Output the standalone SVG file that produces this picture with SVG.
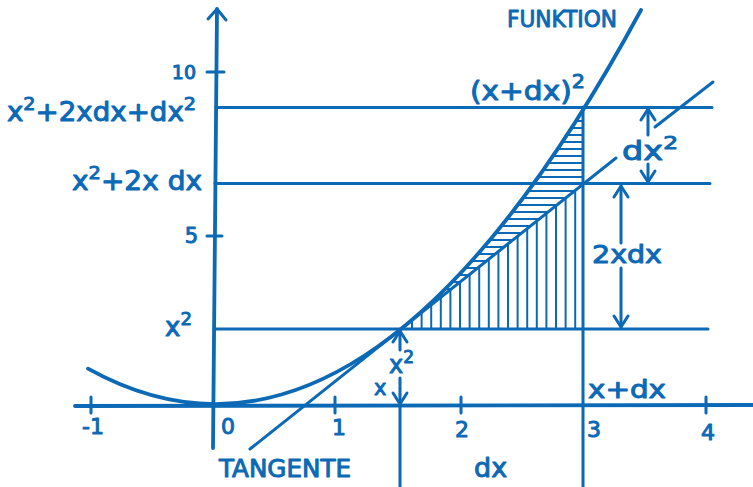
<svg xmlns="http://www.w3.org/2000/svg" width="753" height="487" viewBox="0 0 753 487">
<style>
.ln{fill:none;stroke:#0b69b5;stroke-width:3;stroke-linecap:round;stroke-linejoin:round}
.thick{stroke-width:3.8}
.hatch{fill:none;stroke:#0b69b5;stroke-width:2}
.t{fill:#0b69b5;stroke:#0b69b5;stroke-width:1;stroke-linejoin:round;font-family:"DejaVu Sans","Liberation Sans",sans-serif}
</style>
<defs>
<marker id="ah" markerUnits="userSpaceOnUse" markerWidth="30" markerHeight="30" viewBox="-15 -15 30 30" refX="0" refY="0" orient="auto" overflow="visible">
<path d="M-11,-7 L0,0 L-11,7" fill="none" stroke="#0b69b5" stroke-width="3" stroke-linecap="round" stroke-linejoin="round"/>
</marker>
<clipPath id="hclip"><path d="M400,329 Q491.5,254.9 583,107.4 L583,184.3 L400,329.7 Z"/></clipPath>
<clipPath id="vclip"><path d="M400,329.7 L583,184.3 L583,329 Z"/></clipPath>
</defs>

<g id="hatching">
<g clip-path="url(#hclip)" class="hatch">
<path d="M380,114H590M380,121H590M380,128H590M380,135H590M380,142H590M380,149H590M380,156H590M380,163H590M380,170H590M380,177H590M380,184H590M380,191H590M380,198H590M380,205H590M380,212H590M380,219H590M380,226H590M380,233H590M380,240H590M380,247H590M380,254H590M380,261H590M380,268H590M380,275H590M380,282H590M380,289H590M380,296H590M380,303H590M380,310H590"/>
</g>
<g clip-path="url(#vclip)" class="hatch">
<path d="M412,170V335M421.6,170V335M431.2,170V335M440.8,170V335M450.4,170V335M460,170V335M469.6,170V335M479.2,170V335M488.8,170V335M498.4,170V335M508,170V335M517.6,170V335M527.2,170V335M536.8,170V335M546.4,170V335M556,170V335M565.6,170V335M575.2,170V335"/>
</g>
</g>

<g id="axes">
<path class="ln thick" d="M75,406 L753,405"/>
<path class="ln thick" d="M213,448 L217,9"/>
<path class="ln" d="M208,19 L217,9 L226,20"/>
<path class="ln" d="M91,397V413M335,397V413M461,397V413M706,397V413"/>
<path class="ln" d="M207,72H224M207,236H222"/>
</g>

<g id="guides">
<path class="ln" d="M216,107.5H712"/>
<path class="ln" d="M215,183.5H710"/>
<path class="ln" d="M214,329H708"/>
<path class="ln" d="M583,107V487"/>
<path class="ln" d="M400,405V487"/>
</g>

<g id="connectors">
<path class="ln" d="M400,350V331" marker-end="url(#ah)"/>
<path class="ln" d="M400,378V404" marker-end="url(#ah)"/>
<path class="ln" d="M648,135V109" marker-end="url(#ah)"/>
<path class="ln" d="M648,164V182" marker-end="url(#ah)"/>
<path class="ln" d="M621,243V186" marker-end="url(#ah)"/>
<path class="ln" d="M621,268V327" marker-end="url(#ah)"/>
</g>

<g id="funktion">
<path class="ln thick" d="M88,368.7 Q364,522.2 641,10"/>
</g>
<g id="tangente">
<path class="ln" d="M250,449 L616,158"/>
<path class="ln" d="M655,127 L713,82"/>
</g>

<g id="labels">
<text class="t" x="507" y="27" font-size="23" textLength="110" lengthAdjust="spacingAndGlyphs">FUNKTION</text>
<text class="t" x="470" y="100" font-size="27" textLength="115" lengthAdjust="spacingAndGlyphs">(x+dx)<tspan font-size="19" dy="-12">2</tspan></text>
<text class="t" x="7" y="121" font-size="26" textLength="189" lengthAdjust="spacingAndGlyphs">x<tspan font-size="18" dy="-11">2</tspan><tspan dy="11">+2xdx+dx</tspan><tspan font-size="18" dy="-11">2</tspan></text>
<text class="t" x="72" y="190" font-size="26" textLength="130" lengthAdjust="spacingAndGlyphs">x<tspan font-size="18" dy="-11">2</tspan><tspan dy="11">+2x dx</tspan></text>
<text class="t" x="165" y="336" font-size="26">x<tspan font-size="18" dy="-11">2</tspan></text>
<text class="t" x="622" y="160" font-size="26" textLength="56" lengthAdjust="spacingAndGlyphs">dx<tspan font-size="18" dy="-11">2</tspan></text>
<text class="t" x="592" y="263" font-size="24" textLength="70" lengthAdjust="spacingAndGlyphs">2xdx</text>
<text class="t" x="389" y="373" font-size="24">x<tspan font-size="17" dy="-10">2</tspan></text>
<text class="t" x="374" y="395" font-size="21">x</text>
<text class="t" x="588" y="398" font-size="24" textLength="78" lengthAdjust="spacingAndGlyphs">x+dx</text>
<text class="t" x="219" y="477" font-size="24" textLength="132" lengthAdjust="spacingAndGlyphs">TANGENTE</text>
<text class="t" x="474" y="477" font-size="27">dx</text>
<text class="t" x="196" y="79" font-size="19" text-anchor="end">10</text>
<text class="t" x="198" y="243" font-size="21" text-anchor="end">5</text>
<text class="t" x="82" y="434" font-size="22">-1</text>
<text class="t" x="221" y="434" font-size="22">0</text>
<text class="t" x="332" y="435" font-size="22">1</text>
<text class="t" x="455" y="437" font-size="22">2</text>
<text class="t" x="587" y="437" font-size="22">3</text>
<text class="t" x="701" y="440" font-size="22">4</text>
</g>
</svg>
